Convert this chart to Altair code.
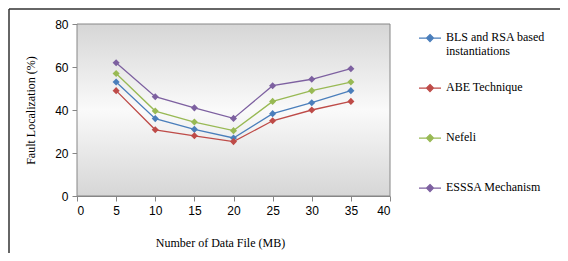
import altair as alt
import pandas as pd

sizes = [5, 10, 15, 20, 25, 30, 35]
series_names = ["BLS and RSA based instantiations", "ABE Technique", "Nefeli", "ESSSA Mechanism"]
bls = [53, 36, 31, 27, 38.3, 43.4, 49]
abe = [49, 30.8, 28, 25.3, 35, 40, 44]
nefeli = [57, 39.5, 34.4, 30.4, 44, 49, 53]
esssa = [62, 46.2, 41, 36.1, 51.3, 54.3, 59.2]
colors = ["#4a7ebb", "#be4b48", "#98b954", "#7d60a0"]
x_ticks = [0, 5, 10, 15, 20, 25, 30, 35, 40]
y_ticks = [0, 20, 40, 60, 80]

rows = []
for name, vals in zip(series_names, [bls, abe, nefeli, esssa]):
    for s, v in zip(sizes, vals):
        rows.append({"size": s, "value": v, "series": name})
df = pd.DataFrame(rows)

serif = "Liberation Serif"
sans = "Liberation Sans"

xscale = alt.Scale(domain=[0, 40], nice=False)
yscale = alt.Scale(domain=[0, 80], nice=False)

x_axis = alt.Axis(values=x_ticks, title="Number of Data File (MB)",
                  grid=False, tickSize=5, labelPadding=4, titlePadding=21, labelOverlap=False,
                  titleX=143)
y_axis = alt.Axis(values=y_ticks, title="Fault Localization (%)",
                  grid=False, tickSize=5, labelPadding=4, titlePadding=17, labelOverlap=False)

color = alt.Color(
    "series:N",
    sort=series_names,
    scale=alt.Scale(domain=series_names, range=colors),
    legend=alt.Legend(
        title=None,
        orient="none",
        legendX=341,
        legendY=-17,
        symbolType="M-1,0.55H1M0,0.23L0.32,0.55L0,0.87L-0.32,0.55Z",
        symbolSize=484,
        symbolStrokeWidth=1.2,
        labelFont=serif,
        labelFontSize=12,
        labelColor="#000000",
        labelLimit=200,
        labelOffset=4,
        labelBaseline="top",
        labelExpr="datum.label == 'BLS and RSA based instantiations' ? ['BLS and RSA based', 'instantiations'] : datum.label",
        clipHeight=50,
        rowPadding=0,
    ),
)

bg = alt.Chart(pd.DataFrame({"x0": [0], "x1": [40], "y0": [0], "y1": [80]})).mark_rect(
    fill=alt.LinearGradient(
        gradient="linear", x1=0, y1=0, x2=0, y2=1,
        stops=[alt.GradientStop(offset=0, color="#d6d6d6"),
               alt.GradientStop(offset=0.5, color="#fafafa"),
               alt.GradientStop(offset=1, color="#d6d6d6")],
    ),
    stroke="#868686", strokeWidth=1,
).encode(
    x=alt.X("x0:Q", scale=xscale, axis=x_axis), x2="x1:Q",
    y=alt.Y("y0:Q", scale=yscale, axis=y_axis), y2="y1:Q",
)

lines = alt.Chart(df).mark_line(strokeWidth=1.3).encode(
    x=alt.X("size:Q", scale=xscale, axis=x_axis),
    y=alt.Y("value:Q", scale=yscale, axis=y_axis),
    color=color,
)
points = alt.Chart(df).mark_point(shape="diamond", filled=True, size=50, opacity=1).encode(
    x=alt.X("size:Q", scale=xscale, axis=x_axis),
    y=alt.Y("value:Q", scale=yscale, axis=y_axis),
    color=alt.Color("series:N", sort=series_names, legend=None,
                    scale=alt.Scale(domain=series_names, range=colors)),
)

border = alt.Chart(pd.DataFrame({"a": [0]})).mark_rule(color="#333333", strokeWidth=1.5).encode(
    x=alt.value(-68), x2=alt.value(-68), y=alt.value(-15), y2=alt.value(240)
)
border_top = alt.Chart(pd.DataFrame({"a": [0]})).mark_rule(color="#333333", strokeWidth=1.5).encode(
    x=alt.value(-68), x2=alt.value(485), y=alt.value(-15), y2=alt.value(-15)
)

chart = alt.layer(bg, lines, points, border, border_top).properties(
    width=313,
    height=172,
    autosize=alt.AutoSizeParams(type="none"),
    padding={"left": 69, "top": 16, "right": 170, "bottom": 57},
).configure_view(
    stroke=None,
).configure_axis(
    domainColor="#868686",
    tickColor="#868686",
    labelFont=sans,
    labelFontSize=12,
    labelColor="#000000",
    titleFont=serif,
    titleFontSize=12,
    titleFontWeight="normal",
    titleColor="#000000",
).configure_legend(
    labelFont=serif,
    labelFontSize=12,
)

chart.save("out.html", embed_options={"renderer": "svg", "actions": False})
